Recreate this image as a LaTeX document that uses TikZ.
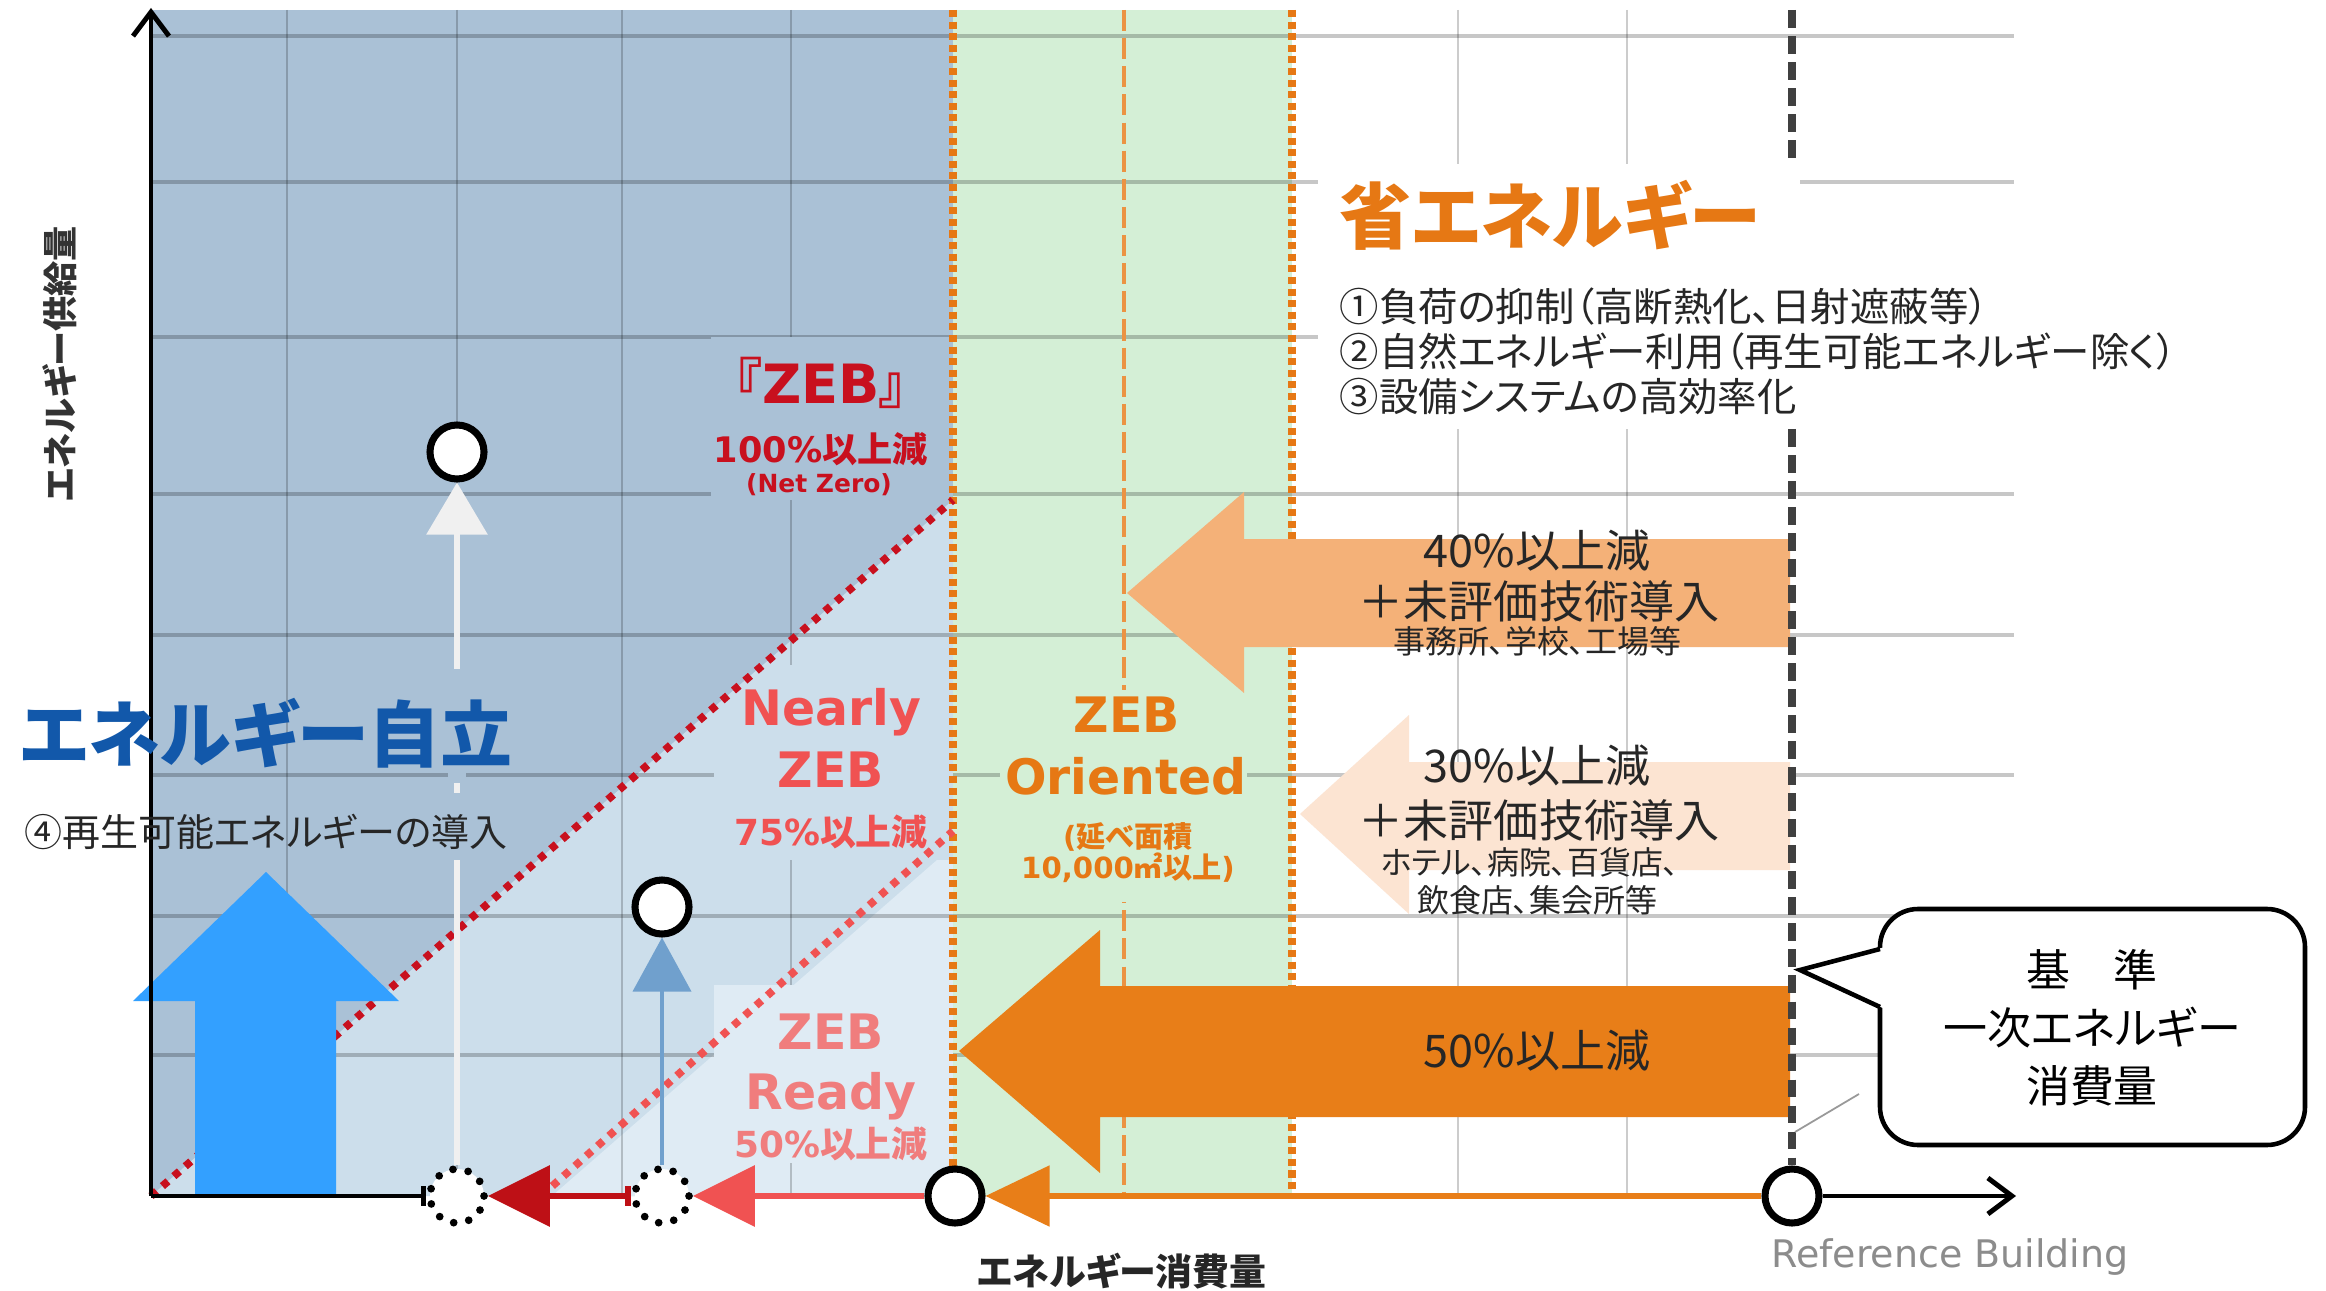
\documentclass[tikz,border=0pt]{standalone}
\usepackage{fontspec}
\usetikzlibrary{arrows.meta}
\newfontfamily\jp[RawFeature=+palt]{Noto Sans CJK JP}
\newfontfamily\vd{DejaVu Sans}

\definecolor{zebdark}{RGB}{170,193,214}
\definecolor{zebmid}{RGB}{204,222,235}
\definecolor{zeblight}{RGB}{223,235,244}
\definecolor{zebgreen}{RGB}{212,239,214}
\definecolor{redzeb}{RGB}{200,16,30}
\definecolor{nearlyred}{RGB}{240,82,82}
\definecolor{readyred}{RGB}{240,125,125}
\definecolor{orangetx}{RGB}{230,120,20}
\definecolor{arrowforty}{RGB}{244,177,120}
\definecolor{arrowthirty}{RGB}{252,228,210}
\definecolor{arrowfifty}{RGB}{232,126,24}
\definecolor{jiritsu}{RGB}{18,88,170}
\definecolor{bigblue}{RGB}{51,160,255}
\definecolor{smallblue}{RGB}{112,160,205}
\definecolor{darkred}{RGB}{190,16,22}

\tikzset{
  ring/.style={circle, draw=black, fill=white, line width=2pt, minimum size=0.54cm, inner sep=0pt},
  dotring/.style={circle, draw=black, fill=white, line width=2.2pt, line cap=round,
    dash pattern=on 0pt off 4.4pt, minimum size=0.54cm, inner sep=0pt},
  hgrid/.style={black, opacity=0.22, line width=1.1pt},
  vgrid/.style={black, opacity=0.2, line width=0.6pt},
  orangeline/.style={orangetx, line width=2.2pt, dash pattern=on 2pt off 1.3pt},
  zebline/.style={line width=2.2pt, dash pattern=on 2.1pt off 2.2pt},
  axis/.style={black, line width=1.4pt},
  txt/.style={inner sep=0pt}
}

\begin{document}
\begin{tikzpicture}[x=0.01cm, y=-0.01cm]
\useasboundingbox (0,0) rectangle (2326,1291);
\fill[white] (0,0) rectangle (2326,1291);

% areas
\fill[zebdark] (151,10) rectangle (953,1196);
\fill[zebmid] (151,1196) -- (953,500) -- (953,1196) -- cycle;
\fill[zeblight] (552,1196) -- (953,846) -- (953,1196) -- cycle;
\fill[zebgreen] (953,10) rectangle (1292,1196);

% grid
\foreach \y in {36,182,337,494,635,775,916,1055}
  \draw[hgrid] (151,\y) -- (2014,\y);
\foreach \x in {287,457,622,791,1458,1627}
  \draw[vgrid] (\x,10) -- (\x,1196);
\draw[orangetx!80, line width=0.9pt, dash pattern=on 6pt off 2pt] (1124,10) -- (1124,1196);

% label backgrounds
\fill[zebdark] (711,337) rectangle (953,500);
\begin{scope}
  \clip (151,1196) -- (953,500) -- (953,1196) -- cycle;
  \fill[zebmid] (714,665) rectangle (953,860);
\end{scope}
\fill[zeblight] (714,985) rectangle (953,1163);
\fill[zebgreen] (1000,690) rectangle (1247,902);
\fill[white] (1318,164) rectangle (1800,262);
\fill[white] (1318,262) rectangle (2150,429);

\draw[orangeline] (953,10) -- (953,1196);
\draw[orangeline] (1292,10) -- (1292,1196);

\draw[zebline, redzeb] (151,1196) -- (953,500);
\draw[zebline, nearlyred] (541,1196) -- (953,831);

% big arrows
\fill[arrowforty] (1127,593) -- (1244,492) -- (1244,539) -- (1790,539) -- (1790,647) -- (1244,647) -- (1244,693) -- cycle;
\fill[arrowthirty] (1300,814) -- (1409,715) -- (1409,762) -- (1790,762) -- (1790,870) -- (1409,870) -- (1409,914) -- cycle;
\fill[arrowfifty] (959,1051) -- (1100,930) -- (1100,986) -- (1790,986) -- (1790,1117) -- (1100,1117) -- (1100,1173) -- cycle;
\fill[bigblue] (266,872) -- (399,1001) -- (336,1001) -- (336,1196) -- (195,1196) -- (195,1001) -- (133,1001) -- cycle;

% points
\node[ring] (c1) at (457,452) {};
\node[ring] (c2) at (662,907) {};
\node[dotring] (d1) at (457,1196) {};
\node[dotring] (d2) at (662,1196) {};
\node[ring] (nz) at (955,1196) {};
\node[ring] (ref) at (1792,1196) {};
\coordinate (o) at (151,1196);
\coordinate (ytop) at (151,8);
\coordinate (xend) at (2016,1196);
\coordinate (reftop) at (1792,10);
\coordinate (refcut) at (1792,164);
\coordinate (refback) at (1792,429);

\draw[black!75, line width=2pt, dash pattern=on 5pt off 2.4pt] (reftop) -- (refcut);
\draw[black!75, line width=2pt, dash pattern=on 5pt off 2.4pt] (refback) -- (ref);
\draw[black!40, line width=0.5pt] (1795,1132) -- (1859,1094);

% axes and steps
\draw[axis, -{Straight Barb[length=0.24cm, width=0.36cm]}] (o) -- (ytop);
\draw[axis, -{Bar[width=0.2cm]}] (o) -- (d1);
\draw[axis, -{Straight Barb[length=0.24cm, width=0.36cm]}] (ref) -- (xend);
\draw[arrowfifty, line width=1.5pt, -{Triangle[length=0.64cm, width=0.6cm]}] (ref) -- (nz);
\draw[nearlyred, line width=1.8pt, -{Triangle[length=0.62cm, width=0.6cm]}] (nz) -- (d2);
\draw[darkred, line width=1.8pt, {Bar[width=0.2cm]}-{Triangle[length=0.62cm, width=0.6cm]}] (d2) -- (d1);
\draw[white!94!black, line width=1.7pt, -{Triangle[length=0.52cm, width=0.6cm]}] (d1) -- (c1);
\draw[smallblue, line width=1.1pt, -{Triangle[length=0.54cm, width=0.58cm]}] (d2) -- (c2);
\fill[zebdark] (448,669) rectangle (466,783);
\fill[zebdark] (448,793) rectangle (466,860);

% callout
\draw[line width=1.3pt, fill=white, rounded corners=0.38cm] (1880,909) rectangle (2305,1145);
\fill[white] (1885,947) -- (1800,970) -- (1885,1009) -- cycle;
\draw[line width=1.3pt] (1880,949) -- (1800,970) -- (1880,1007);
\node[txt, align=center, font={\jp\fontsize{12.5pt}{16.5pt}\selectfont}] (kijun) at (2092,1028) {基　準\\一次エネルギー\\消費量};

% texts
\node[txt, rotate=90, text=black!80, font={\jp\bfseries\fontsize{10pt}{12pt}\selectfont}] (ylab) at (60,364) {エネルギー供給量};
\node[txt, text=black!85, font={\jp\bfseries\fontsize{10.5pt}{12pt}\selectfont}] (xlab) at (1122,1271) {エネルギー消費量};
\node[txt, text=black!45, font={\vd\fontsize{10.8pt}{12pt}\selectfont}] (refb) at (1950,1257) {Reference Building};

\node[txt, text=redzeb, font={\jp\bfseries\fontsize{15.4pt}{18pt}\selectfont}] (zeb) at (821,383) {『{\vd\bfseries ZEB}』};
\node[txt, text=redzeb, font={\jp\bfseries\fontsize{10pt}{12pt}\selectfont}] (zebp) at (821,449) {{\vd\bfseries 100\%}以上減};
\node[txt, text=redzeb, font={\vd\bfseries\fontsize{7.1pt}{9pt}\selectfont}] (zebn) at (819,485) {(Net Zero)};

\node[txt, text=nearlyred, font={\vd\bfseries\fontsize{13.9pt}{16pt}\selectfont}] (nearly) at (831,712) {Nearly};
\node[txt, text=nearlyred, font={\vd\bfseries\fontsize{13.9pt}{16pt}\selectfont}] (nearlyz) at (831,770) {ZEB};
\node[txt, text=nearlyred, font={\jp\bfseries\fontsize{10.2pt}{12pt}\selectfont}] (nearlyp) at (831,832) {{\vd\bfseries 75\%}以上減};

\node[txt, text=readyred, font={\vd\bfseries\fontsize{13.9pt}{16pt}\selectfont}] (readyz) at (831,1032) {ZEB};
\node[txt, text=readyred, font={\vd\bfseries\fontsize{13.9pt}{16pt}\selectfont}] (ready) at (831,1096) {Ready};
\node[txt, text=readyred, font={\jp\bfseries\fontsize{10.2pt}{12pt}\selectfont}] (readyp) at (831,1144) {{\vd\bfseries 50\%}以上減};

\node[txt, text=orangetx, font={\vd\bfseries\fontsize{13.9pt}{16pt}\selectfont}] (oriz) at (1127,715) {ZEB};
\node[txt, text=orangetx, font={\vd\bfseries\fontsize{13.9pt}{16pt}\selectfont}] (ori) at (1126,776) {Oriented};
\node[txt, text=orangetx, font={\jp\bfseries\fontsize{8.3pt}{10pt}\selectfont}] (oriarea) at (1128,837) {{\vd\bfseries (}延べ面積};
\node[txt, text=orangetx, font={\jp\bfseries\fontsize{8.3pt}{10pt}\selectfont}] (orisize) at (1128,868) {{\vd\bfseries 10,000}㎡以上{\vd\bfseries )}};

\node[txt, text=jiritsu, font={\jp\bfseries\fontsize{20.5pt}{24pt}\selectfont}] (jiritsu) at (266,733) {エネルギー自立};
\node[txt, text=black!85, font={\jp\fontsize{10.8pt}{13pt}\selectfont}] (renew) at (266,832) {④再生可能エネルギーの導入};

\node[txt, anchor=west, text=orangetx, font={\jp\bfseries\fontsize{20.5pt}{24pt}\selectfont}] (shoene) at (1339,215) {省エネルギー};
\node[txt, anchor=west, text=black!85, font={\jp\fontsize{11.2pt}{13pt}\selectfont}] (item1) at (1339,307) {①負荷の抑制（高断熱化、日射遮蔽等）};
\node[txt, anchor=west, text=black!85, font={\jp\fontsize{11.2pt}{13pt}\selectfont}] (item2) at (1339,352) {②自然エネルギー利用（再生可能エネルギー除く）};
\node[txt, anchor=west, text=black!85, font={\jp\fontsize{11.2pt}{13pt}\selectfont}] (item3) at (1339,397) {③設備システムの高効率化};

\node[txt, text=black!85, font={\jp\fontsize{12.8pt}{15pt}\selectfont}] (fortyp) at (1537,551) {40\%以上減};
\node[txt, text=black!85, font={\jp\fontsize{12.8pt}{15pt}\selectfont}] (fortyt) at (1539,601) {＋未評価技術導入};
\node[txt, text=black!85, font={\jp\fontsize{9.1pt}{11pt}\selectfont}] (fortyu) at (1537,641) {事務所、学校、工場等};

\node[txt, text=black!85, font={\jp\fontsize{12.8pt}{15pt}\selectfont}] (thirtyp) at (1537,766) {30\%以上減};
\node[txt, text=black!85, font={\jp\fontsize{12.8pt}{15pt}\selectfont}] (thirtyt) at (1539,820) {＋未評価技術導入};
\node[txt, text=black!85, font={\jp\fontsize{9.1pt}{11pt}\selectfont}] (thirtyu) at (1530,862) {ホテル、病院、百貨店、};
\node[txt, text=black!85, font={\jp\fontsize{9.1pt}{11pt}\selectfont}] (thirtyv) at (1537,900) {飲食店、集会所等};

\node[txt, text=black!85, font={\jp\fontsize{12.8pt}{15pt}\selectfont}] (fiftyp) at (1537,1051) {50\%以上減};
\end{tikzpicture}
\end{document}
